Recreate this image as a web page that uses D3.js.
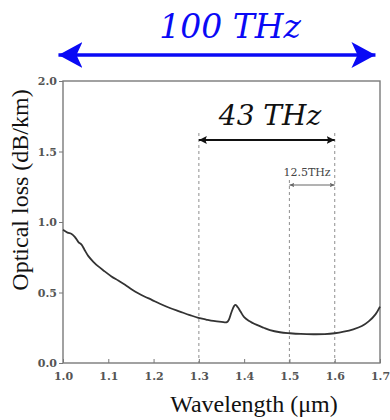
<!DOCTYPE html>
<html>
<head>
<meta charset="utf-8">
<script src="https://cdn.jsdelivr.net/npm/d3@7"></script>
<style>
  body { margin: 0; background: #fff; }
  svg { display: block; }
</style>
</head>
<body>
<script>
const width = 390;
const height = 420;
const margin = {top: 81, right: 10, bottom: 57, left: 63};

// loss spectrum
const wavelength = [1.000, 1.010, 1.019, 1.026, 1.034, 1.041, 1.048, 1.056, 1.067, 1.078,
  1.092, 1.107, 1.122, 1.137, 1.152, 1.166, 1.181, 1.196, 1.214, 1.236,
  1.258, 1.280, 1.299, 1.316, 1.332, 1.350, 1.362, 1.366, 1.372, 1.378,
  1.381, 1.386, 1.392, 1.400, 1.410, 1.428, 1.443, 1.457, 1.479, 1.501,
  1.525, 1.553, 1.578, 1.600, 1.620, 1.641, 1.660, 1.675, 1.690, 1.700];
const loss = [0.945, 0.925, 0.915, 0.895, 0.858, 0.840, 0.800, 0.758, 0.718, 0.685,
  0.650, 0.614, 0.585, 0.555, 0.522, 0.495, 0.470, 0.448, 0.420, 0.390,
  0.365, 0.340, 0.320, 0.308, 0.298, 0.292, 0.290, 0.305, 0.360, 0.405,
  0.412, 0.395, 0.365, 0.325, 0.300, 0.270, 0.250, 0.233, 0.218, 0.211,
  0.206, 0.204, 0.205, 0.211, 0.222, 0.239, 0.262, 0.295, 0.345, 0.400];

const xTicks = [1.0, 1.1, 1.2, 1.3, 1.4, 1.5, 1.6, 1.7];
const yTicks = [0.0, 0.5, 1.0, 1.5, 2.0];

// band markers
const wideBand = [0.99, 1.69];
const cBand = [1.3, 1.6];
const narrowBand = [1.5, 1.6];

const data = wavelength.map((w, i) => ({w: w, v: loss[i]}));

const x = d3.scaleLinear()
  .domain([1.0, 1.7])
  .range([margin.left, width - margin.right]);

const y = d3.scaleLinear()
  .domain([0, 2])
  .range([height - margin.bottom, margin.top]);

const svg = d3.select('body').append('svg')
  .attr('width', width)
  .attr('height', height);

const defs = svg.append('defs');
function arrowHead(id, color, len, half, notch) {
  defs.append('marker')
    .attr('id', id)
    .attr('markerUnits', 'userSpaceOnUse')
    .attr('viewBox', `${-len} ${-half} ${len} ${half * 2}`)
    .attr('refX', 0).attr('refY', 0)
    .attr('markerWidth', len).attr('markerHeight', half * 2)
    .attr('orient', 'auto-start-reverse')
    .append('path')
    .attr('d', `M0,0L${-len},${-half}L${-len + notch},0L${-len},${half}Z`)
    .attr('fill', color);
}
arrowHead('blueHead', '#0a0af5', 24, 13, 6);
arrowHead('blackHead', '#111', 8, 4, 1.5);
arrowHead('greyHead', '#666', 5, 2.2, 1);

// dashed guide lines
const guides = [{w: 1.3, top: 133}, {w: 1.5, top: 180}, {w: 1.6, top: 133}];
svg.append('g').selectAll('line')
  .data(guides)
  .join('line')
  .attr('x1', d => x(d.w)).attr('x2', d => x(d.w))
  .attr('y1', d => d.top).attr('y2', y(0))
  .attr('stroke', '#999')
  .attr('stroke-width', 1.1)
  .attr('stroke-dasharray', '3,3');

const xAxis = g => g
  .attr('transform', `translate(0,${y(0)})`)
  .call(d3.axisBottom(x).tickValues(xTicks).tickFormat(d3.format('.1f'))
    .tickSize(-4).tickPadding(9))
  .call(g => g.select('.domain').remove());

const yAxis = g => g
  .attr('transform', `translate(${margin.left},0)`)
  .call(d3.axisLeft(y).tickValues(yTicks).tickFormat(d3.format('.1f'))
    .tickSize(4).tickPadding(2))
  .call(g => g.select('.domain').remove());

svg.append('g').call(xAxis);
svg.append('g').call(yAxis);

svg.selectAll('.tick line').attr('stroke', '#777').attr('stroke-width', 1);
svg.selectAll('.tick text')
  .attr('fill', '#555')
  .attr('font-family', 'DejaVu Serif')
  .attr('font-weight', 'bold')
  .attr('font-size', 11);

// frame
svg.append('rect')
  .attr('x', x(1.0)).attr('y', y(2))
  .attr('width', x(1.7) - x(1.0))
  .attr('height', y(0) - y(2))
  .attr('fill', 'none')
  .attr('stroke', '#7a7a7a')
  .attr('stroke-width', 1.4);

const line = d3.line()
  .x(d => x(d.w))
  .y(d => y(d.v))
  .curve(d3.curveCatmullRom);

svg.append('path')
  .datum(data)
  .attr('fill', 'none')
  .attr('stroke', '#333')
  .attr('stroke-width', 1.8)
  .attr('stroke-linejoin', 'round')
  .attr('d', line);

// 100 THz
svg.append('line')
  .attr('x1', x(wideBand[0])).attr('x2', x(wideBand[1]))
  .attr('y1', 55).attr('y2', 55)
  .attr('stroke', '#0a0af5')
  .attr('stroke-width', 3.4)
  .attr('marker-start', 'url(#blueHead)')
  .attr('marker-end', 'url(#blueHead)');
svg.append('text')
  .attr('x', 230).attr('y', 38)
  .attr('text-anchor', 'middle')
  .attr('font-family', 'DejaVu Serif')
  .attr('font-style', 'italic')
  .attr('font-size', 33)
  .attr('fill', '#0a0af5')
  .text('100 THz');

// 43 THz
svg.append('line')
  .attr('x1', x(cBand[0])).attr('x2', x(cBand[1]))
  .attr('y1', 140).attr('y2', 140)
  .attr('stroke', '#111')
  .attr('stroke-width', 2)
  .attr('marker-start', 'url(#blackHead)')
  .attr('marker-end', 'url(#blackHead)');
svg.append('text')
  .attr('x', 270).attr('y', 125)
  .attr('text-anchor', 'middle')
  .attr('font-family', 'DejaVu Serif')
  .attr('font-style', 'italic')
  .attr('font-size', 28)
  .attr('fill', '#111')
  .text('43 THz');

// 12.5 THz
svg.append('line')
  .attr('x1', x(narrowBand[0])).attr('x2', x(narrowBand[1]))
  .attr('y1', 185).attr('y2', 185)
  .attr('stroke', '#666')
  .attr('stroke-width', 1)
  .attr('marker-start', 'url(#greyHead)')
  .attr('marker-end', 'url(#greyHead)');
svg.append('text')
  .attr('x', 307).attr('y', 176)
  .attr('text-anchor', 'middle')
  .attr('font-family', 'DejaVu Serif')
  .attr('font-size', 11)
  .attr('fill', '#444')
  .text('12.5THz');

// axis titles
svg.append('text')
  .attr('transform', `translate(28,${(y(0) + y(2)) / 2 - 32}) rotate(-90)`)
  .attr('text-anchor', 'middle')
  .attr('font-family', 'Liberation Serif')
  .attr('font-size', 24)
  .attr('fill', '#111')
  .text('Optical loss (dB/km)');

svg.append('text')
  .attr('x', 254).attr('y', 412)
  .attr('text-anchor', 'middle')
  .attr('font-family', 'Liberation Serif')
  .attr('font-size', 24)
  .attr('fill', '#111')
  .text('Wavelength (μm)');
</script>
</body>
</html>
